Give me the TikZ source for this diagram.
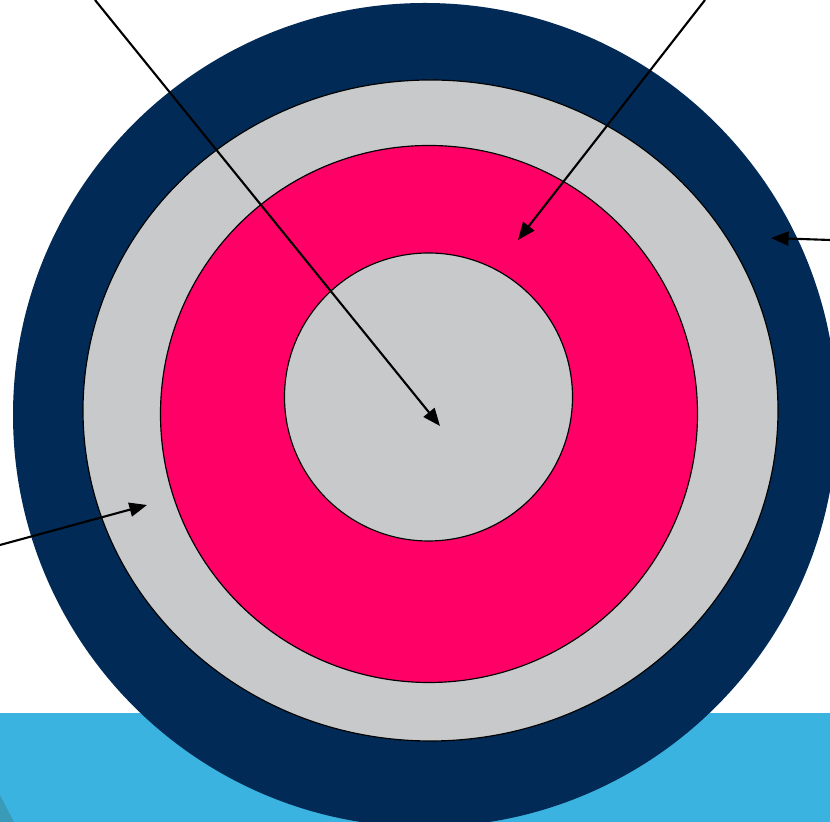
\documentclass[tikz,border=0pt]{standalone}
\usetikzlibrary{arrows.meta}
\definecolor{navy}{HTML}{012B56}
\definecolor{ringgray}{HTML}{C8C9CB}
\definecolor{hotpink}{HTML}{FF0066}
\definecolor{skyblue}{HTML}{3BB3E0}
\definecolor{tealdark}{HTML}{3A9BB8}
\tikzset{
  ring/.style={draw=black,line width=1pt},
  pointer/.style={line width=1.8pt,-{Triangle[length=15pt,width=12pt]}}
}
\begin{document}
\begin{tikzpicture}[x=0.03cm,y=0.03cm]
\useasboundingbox (0,0) rectangle (830,822);
\clip (0,0) rectangle (830,822);
% ground strip
\fill[skyblue] (0,0) rectangle (830,109);
\fill[tealdark] (0,27) -- (14,0) -- (0,0) -- cycle;
% rings, outside in
\fill[navy] (425,407) circle (412);
\filldraw[ring,fill=ringgray] (430.5,411.5) ellipse [x radius=347.5,y radius=330.5];
\filldraw[ring,fill=hotpink] (429,408) circle (268.5);
\filldraw[ring,fill=ringgray] (428.5,425) circle (144);
% pointer ends
\coordinate (core) at (440,396);
\coordinate (pinkring) at (518,582);
\coordinate (jacket) at (771,584);
\coordinate (grayring) at (147,317);
\coordinate (coretail) at (95,822);
\coordinate (pinktail) at (705,822);
\coordinate (jackettail) at (830,582);
\coordinate (graytail) at (0,277);
\foreach \a/\b in {coretail/core,pinktail/pinkring,jackettail/jacket,graytail/grayring}
  {\draw[pointer] (\a) -- (\b);}
\end{tikzpicture}
\end{document}
